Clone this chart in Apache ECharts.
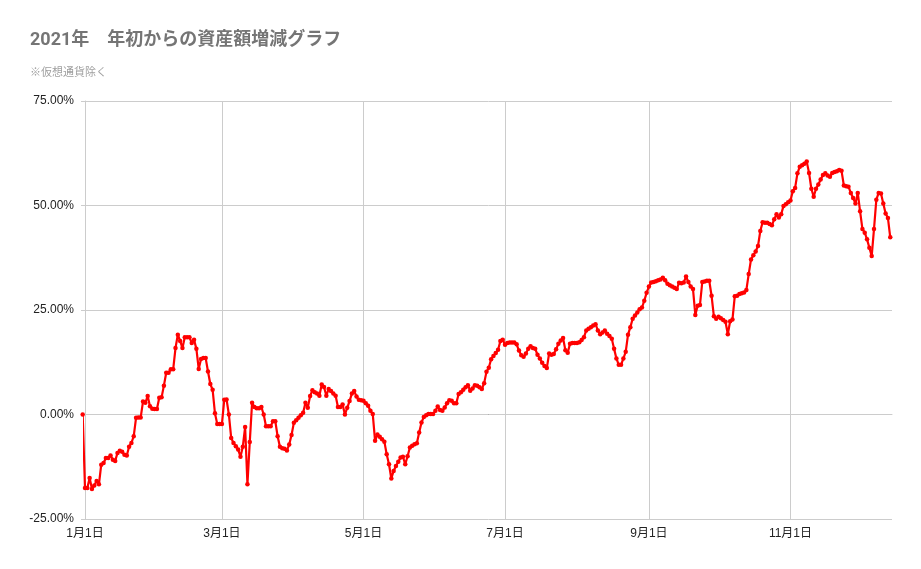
<!DOCTYPE html>
<html><head><meta charset="utf-8">
<script src="https://cdn.jsdelivr.net/npm/echarts@6/dist/echarts.min.js"></script>
<style>html,body{margin:0;padding:0;background:#fff}#c{width:921px;height:569px}</style>
</head><body><div id="c"></div>
<script>
const titleText = '2021年\u3000年初からの資産額増減グラフ';
const subText = '※仮想通貨除く';
const yMin = -25, yMax = 75, yStep = 25;
const xTickMonths = [1, 3, 5, 7, 9, 11];

// daily values (%), one array per month, each starting on day 1 (dec2020 starts on Dec 31)
const dec2020 = [0];
const jan = [-17.6,-17.6,-15.2,-17.8,-17.0,-15.9,-16.7,-12.0,-11.6,-10.4,-10.4,-9.8,-10.8,-11.1,-9.2,-8.7,-8.9,-9.6,-9.8,-7.7,-6.8,-5.2,-0.8,-0.7,-0.7,3.1,2.8,4.4,2.0,1.4,1.3];
const feb = [1.3,4.0,4.1,6.9,10.0,10.0,10.8,10.8,15.9,19.1,17.6,15.9,18.5,18.5,18.5,17.1,17.9,15.7,10.9,13.3,13.5,13.5,10.3,7.3,5.9,0.3,-2.3,-2.3];
const mar = [-2.3,3.5,3.6,0,-5.6,-6.8,-7.6,-8.4,-10.1,-7.7,-3.0,-16.7,-6.6,2.8,1.8,1.5,1.5,1.8,0,-2.8,-2.8,-2.8,-1.6,-1.6,-5.2,-7.7,-8.1,-8.2,-8.6,-7.2,-4.9];
const apr = [-2.0,-1.4,-0.8,-0.2,0.4,2.8,1.6,4.4,5.8,5.3,5.0,4.5,7.2,6.6,4.5,6.1,5.6,5.0,4.5,1.8,1.8,2.4,0,1.6,3.2,5.0,5.6,4.3,3.5,3.4];
const may = [3.3,2.7,2.1,0.9,0.1,-6.3,-4.8,-5.3,-5.9,-6.5,-9.5,-11.9,-15.3,-13.5,-12.3,-11.3,-10.3,-10.1,-11.9,-10.0,-7.9,-7.5,-7.1,-6.9,-4.3,-1.9,-0.6,-0.2,0.1,0.1,0.1];
const jun = [0.9,1.9,1.1,0.9,1.7,2.7,3.4,3.3,2.7,2.7,4.9,5.3,5.9,6.5,7.0,5.7,6.2,7.0,6.9,6.5,6.1,7.5,10.2,11.2,13.2,14.0,14.7,15.5,17.6,17.9];
const jul = [16.7,17.1,17.2,17.2,17.2,16.8,15.3,14.2,13.8,14.6,15.7,16.3,15.9,15.7,14.3,13.4,12.4,11.6,11.1,14.6,14.3,14.5,15.6,16.9,17.7,18.3,15.4,14.8,16.9,17.1,17.1];
const aug = [17.1,17.3,17.8,18.5,20.1,20.5,20.9,21.3,21.6,20.1,19.2,19.6,20.1,19.3,18.8,18.1,15.7,13.4,11.9,11.9,13.4,15.0,19.1,20.9,22.9,23.7,24.4,25.2,25.6,27.2,29.1];
const sep = [30.6,31.6,31.7,31.9,32.1,32.3,32.7,32.1,31.3,30.9,30.6,30.3,30.0,31.5,31.4,31.6,33.0,31.7,30.6,30.0,23.8,26.0,26.2,31.7,31.8,32.0,32.0,28.4,23.5,22.9];
const oct = [23.4,23.0,22.6,22.2,19.2,22.3,22.7,28.3,28.4,28.8,29.0,29.2,29.8,33.6,37.1,38.1,39.0,40.3,43.9,46.0,45.9,45.9,45.6,45.3,46.7,47.9,47.1,47.9,49.9,50.3,50.8];
const nov = [51.2,53.4,54.2,57.7,59.3,59.6,60.0,60.5,57.8,54.0,52.1,54.0,55.0,56.2,57.3,57.7,57.2,56.9,57.8,58.0,58.2,58.5,58.3,54.8,54.6,54.5,53.0,51.8,50.5,53.0];
const dec = [48.6,44.4,43.5,41.9,39.9,37.9,44.4,51.4,53.0,52.9,50.5,48.1,47.0,42.4];

const monthSeries = [
  [2020, 11, 31, dec2020],
  [2021, 0, 1, jan], [2021, 1, 1, feb], [2021, 2, 1, mar], [2021, 3, 1, apr],
  [2021, 4, 1, may], [2021, 5, 1, jun], [2021, 6, 1, jul], [2021, 7, 1, aug],
  [2021, 8, 1, sep], [2021, 9, 1, oct], [2021, 10, 1, nov], [2021, 11, 1, dec]
];
const data = [];
monthSeries.forEach(([y, m, d0, arr]) => {
  arr.forEach((v, i) => data.push([new Date(y, m, d0 + i).getTime(), v]));
});
const xTicks = xTickMonths.map(m => new Date(2021, m - 1, 1).getTime());
const xMin = new Date(2021, 0, 1).getTime();
const xMax = new Date(2021, 11, 14, 18).getTime();

const latin = 'Arial, "Liberation Sans", "Noto Sans CJK JP", sans-serif';
const chart = echarts.init(document.getElementById('c'), null, {renderer: 'canvas'});
chart.setOption({
  animation: false,
  backgroundColor: '#fff',
  title: [
    {text: titleText, left: 30, top: 31, padding: 0,
     textStyle: {fontSize: 18, fontWeight: 'bold', color: '#757575', lineHeight: 18, fontFamily: 'Roboto, "Noto Sans CJK JP", sans-serif'}},
    {text: subText, left: 30, top: 66, padding: 0,
     textStyle: {fontSize: 11, fontWeight: 'normal', color: '#9e9e9e', lineHeight: 11, fontFamily: '"Noto Sans CJK JP", sans-serif'}}
  ],
  grid: {left: 85, right: 29, top: 101, bottom: 50, containLabel: false},
  xAxis: {
    type: 'value', min: xMin, max: xMax, scale: true,
    axisLine: {show: true, lineStyle: {color: '#cccccc', width: 1}},
    axisTick: {show: false, customValues: xTicks},
    axisLabel: {customValues: xTicks, color: '#222', fontSize: 12, fontFamily: latin, margin: 9,
      formatter: v => { const d = new Date(v); return (d.getMonth() + 1) + '月' + d.getDate() + '日'; }},
    splitLine: {show: true, lineStyle: {color: '#cccccc', width: 1}}
  },
  yAxis: {
    type: 'value', min: yMin, max: yMax, interval: yStep,
    axisLine: {show: true, lineStyle: {color: '#cccccc', width: 1}},
    axisTick: {show: true, length: 4, lineStyle: {color: '#cccccc'}},
    axisLabel: {color: '#222', fontSize: 12, fontFamily: latin, margin: 11,
      formatter: v => v.toFixed(2) + '%'},
    splitLine: {show: true, lineStyle: {color: ['#cccccc', '#333333', '#cccccc', '#cccccc', '#cccccc'], width: 1}}
  },
  series: [{
    type: 'line', data: data, clip: false,
    showSymbol: true, showAllSymbol: true,
    symbol: 'circle', symbolSize: 4.5,
    lineStyle: {color: '#ff0000', width: 2.2},
    itemStyle: {color: '#ff0000'},
    emphasis: {disabled: true}
  }]
});
</script></body></html>
